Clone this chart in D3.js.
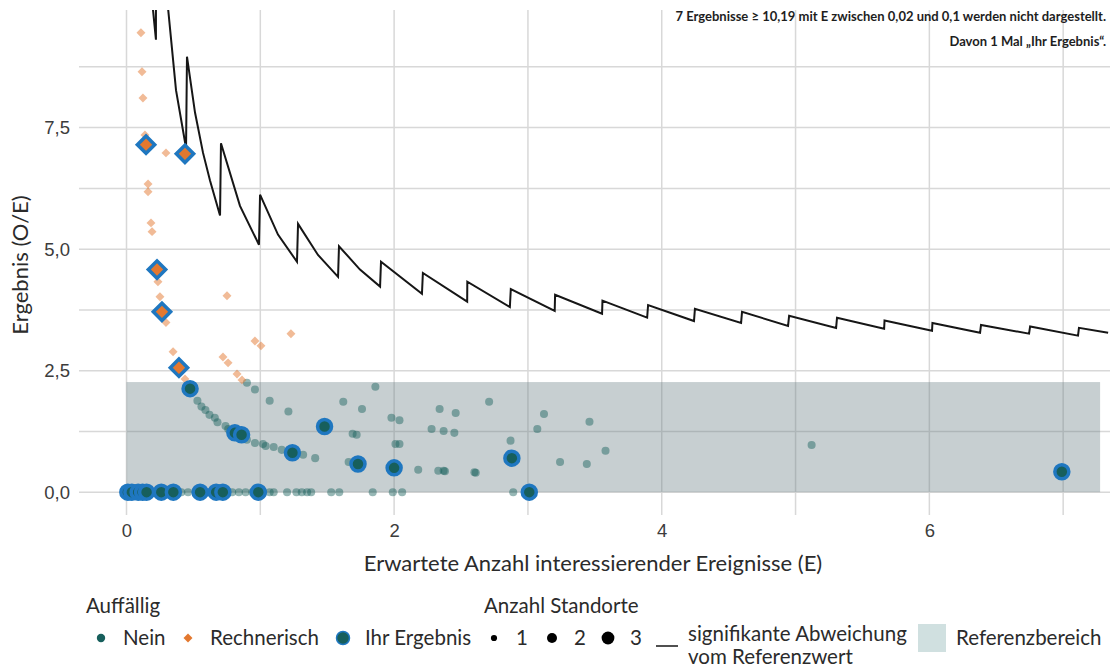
<!DOCTYPE html>
<html lang="de">
<head>
<meta charset="utf-8">
<script src="https://cdn.jsdelivr.net/npm/d3@7"></script>
<style>
  body { margin: 0; background: #fff; }
  svg { display: block; font-family: Lato, 'Open Sans', sans-serif; }
  .tick text { fill: #3c3c3c; font-size: 18.5px; }
  .legend text { fill: #2b2b2b; font-size: 20.5px; }
</style>
</head>
<body>
<svg id="chart" width="1112" height="669"></svg>
<script>
// [E, O/E] pairs
const nein_points = [
	[0.53,1.88],[0.56,1.76],[0.59,1.69],[0.62,1.59],[0.66,1.53],[0.68,1.44],[0.74,1.36],[0.76,1.30],[0.78,1.27],
	[0.90,1.08],[0.96,1.01],[1.02,0.99],[1.04,0.95],[1.10,0.93],[1.16,0.87],[1.32,0.77],[1.41,0.70],
	[0.90,2.25],[0.96,2.11],[1.07,1.88],[1.21,1.66],[1.62,1.86],[1.76,1.71],[1.86,2.17],[1.69,1.20],[1.72,1.18],
	[1.66,0.62],[1.98,1.53],[2.04,1.48],[2.01,0.99],[2.04,0.99],[2.34,1.71],[2.46,1.63],[2.71,1.86],[2.28,1.30],
	[2.37,1.26],[2.45,1.22],[3.07,1.30],[3.12,1.61],[2.87,1.06],[2.18,0.46],[2.33,0.44],[2.37,0.44],[2.38,0.43],
	[2.61,0.40],[2.60,0.41],[3.24,0.62],[3.44,0.58],[3.46,1.45],[3.58,0.85],[5.12,0.97],
	[0.41,0],[0.46,0],[0.61,0],[0.79,0],[0.84,0],[0.89,0],[0.94,0],[1.02,0],[1.07,0],[1.10,0],[1.20,0],[1.27,0],
	[1.31,0],[1.35,0],[1.38,0],[1.53,0],[1.59,0],[1.84,0],[1.99,0],[2.06,0],[2.89,0]
];
const rechnerisch_points = [
	[0.108,9.45],[0.116,8.65],[0.123,8.11],[0.138,7.35],[0.295,6.98],[0.161,6.34],[0.161,6.18],[0.183,5.54],
	[0.191,5.36],[0.235,4.33],[0.250,4.02],[0.295,3.49],[0.348,2.89],[0.437,2.33],[0.751,4.04],[0.721,2.78],
	[0.759,2.66],[0.826,2.43],[0.863,2.31],[0.960,3.11],[1.005,3.01],[1.229,3.26]
];
const ihr_ergebnis_nein = [
	[0.475,2.13],[0.81,1.22],[0.86,1.18],[1.24,0.81],[1.48,1.35],[1.73,0.58],[2.00,0.50],[2.88,0.70],[3.01,0],[6.99,0.42],
	[0.01,0],[0.04,0],[0.087,0],[0.12,0],[0.15,0],[0.26,0],[0.35,0],[0.55,0],[0.67,0],[0.72,0],[0.985,0]
];
const ihr_ergebnis_rechnerisch = [[0.146,7.15],[0.437,6.96],[0.228,4.58],[0.265,3.71],[0.392,2.56]];

// significance boundary (sawtooth), vertices
const sig_curve = [
	[0.198,9.92],[0.220,9.31],[0.220,10.6],null,
	[0.302,10.2],[0.370,8.27],[0.445,7.08],[0.452,8.96],[0.512,7.81],[0.572,6.98],[0.624,6.41],[0.699,5.69],
	[0.706,7.18],[0.848,5.89],[0.990,5.09],[0.998,6.12],[1.132,5.30],[1.274,4.74],[1.282,5.52],[1.431,4.88],
	[1.581,4.43],[1.588,5.06],[1.745,4.58],[1.895,4.23],[1.902,4.74],[2.208,4.08],[2.215,4.51],[2.546,3.92],
	[2.547,4.33],[2.865,3.81],[2.872,4.18],[3.200,3.73],[3.203,4.06],[3.554,3.67],[3.557,3.94],[3.891,3.59],
	[3.898,3.85],[4.241,3.52],[4.248,3.77],[4.593,3.48],[4.600,3.71],[4.944,3.42],[4.952,3.63],[5.303,3.38],
	[5.310,3.59],[5.662,3.36],[5.665,3.53],[6.020,3.32],[6.023,3.48],[6.379,3.28],[6.386,3.44],[6.745,3.26],
	[6.753,3.41],[7.111,3.22],[7.118,3.38],[7.336,3.28]
];
const referenz_bereich = { e: [0, 7.276], oe: [0, 2.265] };

const x_grid = [0, 1, 2, 3, 4, 5, 6, 7];
const x_ticks = [0, 2, 4, 6];
const y_grid = [0, 1.25, 2.5, 3.75, 5, 6.25, 7.5, 8.75];
const y_ticks = [0, 2.5, 5, 7.5];
const standorte = [1, 2, 3];

const teal = '#175f5c';
const orange = '#e3782f';
const blue = '#1f77c0';

const de = d3.formatLocale({ decimal: ',', thousands: '.', grouping: [3], currency: ['', ' €'] });

const svg = d3.select('#chart');
const plot = { left: 79, right: 1110, top: 10, bottom: 515 };

const xscale = d3.scaleLinear().domain([-0.355, 7.35]).range([plot.left, plot.right]);
const yscale = d3.scaleLinear().domain([-0.47, 9.92]).range([plot.bottom, plot.top]);
const rscale = d3.scaleLinear().domain([1, 3]).range([3.6, 6.4]);

svg.append('defs').append('clipPath').attr('id', 'clip')
	.append('rect')
	.attr('x', plot.left).attr('y', plot.top)
	.attr('width', plot.right - plot.left).attr('height', plot.bottom - plot.top);

// grid
const grid = svg.append('g').attr('stroke', '#d8d8d8').attr('stroke-width', 1.5);
grid.selectAll('line.v').data(x_grid).join('line').attr('class', 'v')
	.attr('x1', d => xscale(d)).attr('x2', d => xscale(d))
	.attr('y1', plot.top).attr('y2', plot.bottom);
grid.selectAll('line.h').data(y_grid).join('line').attr('class', 'h')
	.attr('x1', plot.left).attr('x2', plot.right)
	.attr('y1', d => yscale(d)).attr('y2', d => yscale(d));

// reference band
svg.append('rect')
	.attr('x', xscale(referenz_bereich.e[0]))
	.attr('width', xscale(referenz_bereich.e[1]) - xscale(referenz_bereich.e[0]))
	.attr('y', yscale(referenz_bereich.oe[1]))
	.attr('height', yscale(referenz_bereich.oe[0]) - yscale(referenz_bereich.oe[1]))
	.attr('fill', '#687d83').attr('fill-opacity', 0.37);

// axes
svg.append('g')
	.attr('transform', `translate(0,${plot.bottom})`)
	.call(d3.axisBottom(xscale).tickValues(x_ticks).tickSize(0).tickPadding(9).tickFormat(d3.format('d')))
	.call(g => g.select('.domain').remove());
svg.append('g')
	.attr('transform', `translate(${plot.left},0)`)
	.call(d3.axisLeft(yscale).tickValues(y_ticks).tickSize(0).tickPadding(9).tickFormat(de.format('.1f')))
	.call(g => g.select('.domain').remove());
svg.selectAll('.tick text').attr('font-family', null);

svg.append('text')
	.attr('x', 593).attr('y', 571).attr('text-anchor', 'middle')
	.attr('font-size', 22).attr('fill', '#2b2b2b')
	.text('Erwartete Anzahl interessierender Ereignisse (E)');
svg.append('text')
	.attr('transform', 'translate(28,265) rotate(-90)').attr('text-anchor', 'middle')
	.attr('font-size', 22).attr('fill', '#2b2b2b')
	.text('Ergebnis (O/E)');

// significance line
const line = d3.line()
	.defined(d => d !== null)
	.x(d => xscale(d[0]))
	.y(d => yscale(d[1]));
svg.append('path')
	.attr('clip-path', 'url(#clip)')
	.attr('d', line(sig_curve))
	.attr('fill', 'none').attr('stroke', '#161616').attr('stroke-width', 2);

// points
const diamond = d3.symbol().type(d3.symbolSquare);
const pts = svg.append('g').attr('clip-path', 'url(#clip)');

pts.selectAll('circle.nein').data(nein_points).join('circle').attr('class', 'nein')
	.attr('cx', d => xscale(d[0])).attr('cy', d => yscale(d[1]))
	.attr('r', rscale(1.3))
	.attr('fill', teal).attr('fill-opacity', 0.45);

pts.selectAll('path.rech').data(rechnerisch_points).join('path').attr('class', 'rech')
	.attr('d', diamond.size(40)())
	.attr('transform', d => `translate(${xscale(d[0])},${yscale(d[1])}) rotate(45)`)
	.attr('fill', orange).attr('fill-opacity', 0.5);

pts.selectAll('circle.ihr').data(ihr_ergebnis_nein).join('circle').attr('class', 'ihr')
	.attr('cx', d => xscale(d[0])).attr('cy', d => yscale(d[1]))
	.attr('r', 7)
	.attr('fill', teal).attr('stroke', blue).attr('stroke-width', 3.5);

pts.selectAll('path.ihr-rech').data(ihr_ergebnis_rechnerisch).join('path').attr('class', 'ihr-rech')
	.attr('d', diamond.size(150)())
	.attr('transform', d => `translate(${xscale(d[0])},${yscale(d[1])}) rotate(45)`)
	.attr('fill', orange).attr('stroke', blue).attr('stroke-width', 3.5);

// note top right
const note = svg.append('g').attr('font-size', 13).attr('font-weight', 700)
	.attr('fill', '#1e1e1e').attr('text-anchor', 'end');
note.append('text').attr('x', 1106).attr('y', 21)
	.text('7 Ergebnisse \u2265 10,19 mit E zwischen 0,02 und 0,1 werden nicht dargestellt.');
note.append('text').attr('x', 1106).attr('y', 46)
	.text('Davon 1 Mal \u201EIhr Ergebnis\u201C.');

// legend
const legend = svg.append('g').attr('class', 'legend');
const row = 638;
legend.append('text').attr('x', 86).attr('y', 613).text('Auffällig');
legend.append('text').attr('x', 484).attr('y', 613).text('Anzahl Standorte');

legend.append('circle').attr('cx', 101).attr('cy', row).attr('r', 4.2).attr('fill', teal);
legend.append('text').attr('x', 123).attr('y', row + 7).text('Nein');
legend.append('path').attr('d', diamond.size(40)())
	.attr('transform', `translate(188,${row}) rotate(45)`).attr('fill', orange);
legend.append('text').attr('x', 210).attr('y', row + 7).text('Rechnerisch');
legend.append('circle').attr('cx', 343).attr('cy', row).attr('r', 6.5)
	.attr('fill', teal).attr('stroke', blue).attr('stroke-width', 1.5);
legend.append('text').attr('x', 365).attr('y', row + 7).text('Ihr Ergebnis');

const size_x = [494, 552, 608];
legend.selectAll('circle.size').data(standorte).join('circle').attr('class', 'size')
	.attr('cx', (d, i) => size_x[i]).attr('cy', row).attr('r', d => rscale(d) - (d === 1 ? 0.5 : 0))
	.attr('fill', '#000');
legend.selectAll('text.size').data(standorte).join('text').attr('class', 'size')
	.attr('x', (d, i) => size_x[i] + 22).attr('y', row + 7).text(d => d);

legend.append('line').attr('x1', 656).attr('x2', 678).attr('y1', 646).attr('y2', 646)
	.attr('stroke', '#161616').attr('stroke-width', 1.5);
legend.append('text').attr('x', 688).attr('y', 641).text('signifikante Abweichung');
legend.append('text').attr('x', 688).attr('y', 664).text('vom Referenzwert');

legend.append('rect').attr('x', 918).attr('y', 624).attr('width', 28).attr('height', 28).attr('fill', '#d0e0e0');
legend.append('text').attr('x', 956).attr('y', row + 7).text('Referenzbereich');
</script>
</body>
</html>
